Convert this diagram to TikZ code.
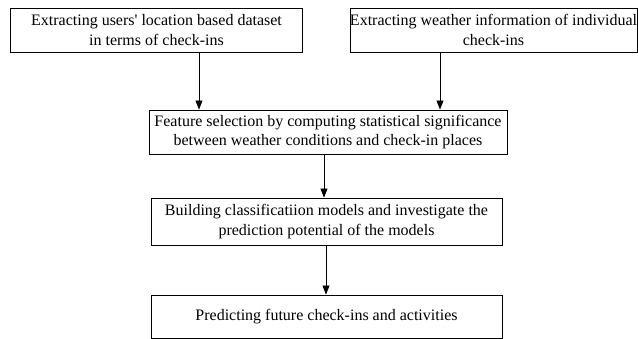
\documentclass[tikz,border=0pt]{standalone}
\usepackage{fontspec}
\setmainfont{Liberation Serif}
\newfontfamily\rawserif{Liberation Serif}
\usetikzlibrary{arrows.meta,calc}
\begin{document}
\begin{tikzpicture}[x=1pt,y=-1pt,
  stepbox/.style={draw,line width=0.9pt,inner sep=0pt,align=center,
    font=\fontsize{16}{19.5}\selectfont},
  arr/.style={line width=0.9pt,-{Triangle[length=9pt,width=7pt]}}]
\useasboundingbox (0,0) rectangle (638,339);
\node[stepbox,minimum width=292pt,minimum height=44pt] (b1) at (156.5,30)
  {Extracting users{\rawserif'} location based dataset\\in terms of check-ins};
\node[stepbox,minimum width=287pt,minimum height=44pt] (b2) at (493.5,30)
  {Extracting weather information of individual\\check-ins};
\node[stepbox,minimum width=358pt,minimum height=44pt] (b3) at (328,132)
  {Feature selection by computing statistical significance\\between weather conditions and check-in places};
\node[stepbox,minimum width=351pt,minimum height=47pt] (b4) at (326.5,221.5)
  {Building classificatiion models and investigate the\\prediction potential of the models};
\node[stepbox,minimum width=351pt,minimum height=43pt] (b5) at (326.5,316.5)
  {Predicting future check-ins and activities};
\coordinate (a1) at (199,0);
\coordinate (a2) at (440,0);
\coordinate (a3) at (324,0);
\coordinate (a4) at (326,0);
\draw[arr] (b1.south -| a1) -- (b3.north -| a1);
\draw[arr] (b2.south -| a2) -- (b3.north -| a2);
\draw[arr] (b3.south -| a3) -- (b4.north -| a3);
\draw[arr] (b4.south -| a4) -- (b5.north -| a4);
\end{tikzpicture}
\end{document}
